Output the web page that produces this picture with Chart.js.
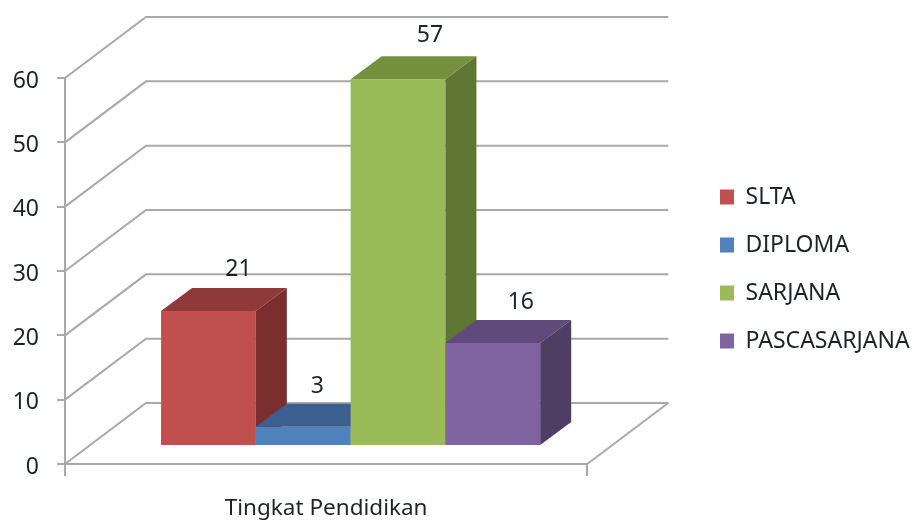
<!DOCTYPE html>
<html>
<head>
<meta charset="utf-8">
<script src="https://cdn.jsdelivr.net/npm/chart.js@4"></script>
<style>
  html, body { margin: 0; padding: 0; background: #fff; }
  #wrap { width: 913px; height: 520px; }
</style>
</head>
<body>
<div id="wrap"><canvas id="myChart" width="913" height="520"></canvas></div>
<script>
const categories = ["Tingkat Pendidikan"];
const seriesNames = ["SLTA", "DIPLOMA", "SARJANA", "PASCASARJANA"];
const seriesValues = [[21], [3], [57], [16]];

const frontColors = ["#C0504D", "#4F81BD", "#9BBB59", "#8064A2"];
const topColors = ["#8F3A38", "#3B608F", "#75913F", "#5F4A7B"];
const sideColors = ["#7A2F2E", "#2F4D72", "#5F7634", "#4F3E63"];

const fontFamily = "'Noto Sans', sans-serif";
const fontSize = 23;
const textColor = "#1f2328";
const gridColor = "#A9A9A9";

// the fake 3d: how far the side wall runs back, and where the bars sit on the floor
const wallDepth = { x: 81, y: -61 };
const barShift = { x: 24.5, y: -18 };
const barDepth = { x: 31, y: -23 };

// value labels are not quite centred over the bars, nudged per series
const labelNudge = [{ x: -1, y: 1 }, { x: -17, y: 2 }, { x: 1, y: -2 }, { x: -3, y: 1 }];

const box3d = {
    id: "box3d",
    afterLayout(chart) {
        // legend sits further right than the layout would put it
        const legend = chart.legend;
        legend.left = 695;
        legend.right = 913;
        legend.top -= 60;

        // y labels hang a little below their tick marks
        chart.scales.y.getLabelItems().forEach((item) => { item.textOffset += 3; });
    },
    beforeDatasetsDraw(chart) {
        const ctx = chart.ctx;
        const yScale = chart.scales.y;
        const left = chart.chartArea.left;
        const right = chart.chartArea.right;
        const bottom = chart.chartArea.bottom;

        // side wall and back wall lines
        ctx.save();
        ctx.strokeStyle = gridColor;
        ctx.lineWidth = 2;
        yScale.ticks.forEach((tick) => {
            const y = yScale.getPixelForValue(tick.value);
            ctx.beginPath();
            ctx.moveTo(left, y);
            ctx.lineTo(left + wallDepth.x, y + wallDepth.y);
            ctx.lineTo(right + wallDepth.x, y + wallDepth.y);
            ctx.stroke();
        });
        ctx.beginPath();
        ctx.moveTo(right, bottom);
        ctx.lineTo(right + wallDepth.x, bottom + wallDepth.y);
        ctx.stroke();
        ctx.restore();

        // left to right so the next bar covers the side of the one before
        ctx.save();
        ctx.translate(barShift.x, barShift.y);
        chart.getSortedVisibleDatasetMetas().slice().sort((a, b) => a.index - b.index).forEach((meta) => {
            const bar = meta.data[0];
            const p = bar.getProps(["x", "y", "base", "width"], true);
            const x0 = p.x - p.width / 2;
            const x1 = p.x + p.width / 2;

            meta.controller.draw();

            ctx.fillStyle = topColors[meta.index];
            ctx.beginPath();
            ctx.moveTo(x0, p.y);
            ctx.lineTo(x0 + barDepth.x, p.y + barDepth.y);
            ctx.lineTo(x1 + barDepth.x, p.y + barDepth.y);
            ctx.lineTo(x1, p.y);
            ctx.closePath();
            ctx.fill();

            ctx.fillStyle = sideColors[meta.index];
            ctx.beginPath();
            ctx.moveTo(x1, p.y);
            ctx.lineTo(x1 + barDepth.x, p.y + barDepth.y);
            ctx.lineTo(x1 + barDepth.x, p.base + barDepth.y);
            ctx.lineTo(x1, p.base);
            ctx.closePath();
            ctx.fill();
        });

        // value labels above the back edge of each bar
        ctx.font = fontSize + "px " + fontFamily;
        ctx.fillStyle = textColor;
        ctx.textAlign = "center";
        ctx.textBaseline = "middle";
        chart.getSortedVisibleDatasetMetas().forEach((meta) => {
            const p = meta.data[0].getProps(["x", "y"], true);
            const nudge = labelNudge[meta.index];
            ctx.fillText(seriesValues[meta.index][0], p.x + barDepth.x + nudge.x, p.y + barDepth.y - 19 + nudge.y);
        });
        ctx.restore();
        return false;
    },
};

const ctx = document.getElementById("myChart");

new Chart(ctx, {
    type: "bar",
    data: {
        labels: categories,
        datasets: seriesNames.map((name, i) => ({
            label: name,
            data: seriesValues[i],
            backgroundColor: frontColors[i],
            borderWidth: 0,
        })),
    },
    options: {
        responsive: false,
        animation: false,
        categoryPercentage: 0.726,
        barPercentage: 1,
        layout: { padding: { top: 78, right: 130, left: 0, bottom: 0 } },
        scales: {
            y: {
                min: 0,
                max: 60,
                afterFit(scale) { scale.width = 65; },
                ticks: {
                    stepSize: 10,
                    padding: 18,
                    color: textColor,
                    font: { family: fontFamily, size: fontSize },
                },
                grid: { drawOnChartArea: false, tickLength: 8, color: gridColor, lineWidth: 2 },
                border: { color: gridColor, width: 2 },
            },
            x: {
                afterFit(scale) { scale.height = 56; },
                ticks: {
                    padding: 19,
                    color: textColor,
                    font: { family: fontFamily, size: 22.5 },
                },
                grid: { drawOnChartArea: false, offset: true, tickLength: 12, color: gridColor, lineWidth: 2 },
                border: { color: gridColor, width: 2 },
            },
        },
        plugins: {
            legend: {
                position: "right",
                labels: {
                    boxWidth: 14,
                    boxHeight: 15,
                    padding: 25,
                    color: textColor,
                    font: { family: fontFamily, size: fontSize },
                },
            },
            tooltip: { enabled: false },
        },
    },
    plugins: [box3d],
});
</script>
</body>
</html>
